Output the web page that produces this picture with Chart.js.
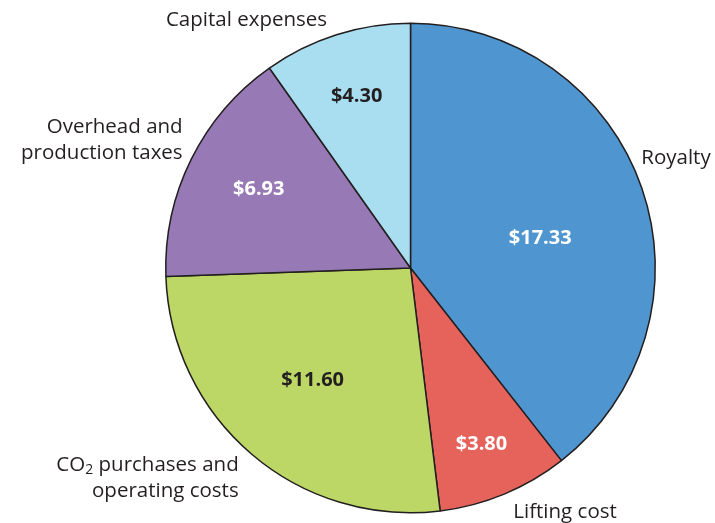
<!DOCTYPE html>
<html>
<head>
<meta charset="utf-8">
<script src="https://cdn.jsdelivr.net/npm/chart.js@4.4.1/dist/chart.umd.min.js"></script>
<style>
    html, body { margin: 0; padding: 0; background: #ffffff; }
    #wrap { width: 715px; height: 523px; position: relative; }
</style>
</head>
<body>
<div id="wrap"><canvas id="costChart"></canvas></div>
<script>
// slice data, clockwise from 12 o'clock
const categories = ['Royalty', 'Lifting cost', 'CO2 purchases and operating costs', 'Overhead and production taxes', 'Capital expenses'];
const costValues = [17.33, 3.80, 11.60, 6.93, 4.30];
const valueLabels = ['$17.33', '$3.80', '$11.60', '$6.93', '$4.30'];

const sliceColors = ['#4f96d1', '#e5635a', '#bdd766', '#977ab5', '#a9def1'];
const valueTextColors = ['#ffffff', '#ffffff', '#231f20', '#ffffff', '#231f20'];

// label placement, offsets from pie centre in units of radius
const valueOffsets = [[0.53, -0.12], [0.29, 0.72], [-0.40, 0.46], [-0.62, -0.32], [-0.22, -0.70]];
const outerLabels = [
    { lines: ['Royalty'], dx: 0.943, dy: -0.449, align: 'left' },
    { lines: ['Lifting cost'], dx: 0.42, dy: 0.996, align: 'left' },
    { lines: ['CO|2| purchases and', 'operating costs'], dx: -0.702, dy: 0.804, align: 'right' },
    { lines: ['Overhead and', 'production taxes'], dx: -0.931, dy: -0.576, align: 'right' },
    { lines: ['Capital expenses'], dx: -0.67, dy: -1.012, align: 'center' }
];

const fontFamily = "'Open Sans', 'Noto Sans', sans-serif";
const textColor = '#231f20';

// draws "CO|2|..." with a subscript part between pipes
function drawRichLine(ctx, text, x, y, align) {
    const parts = text.split('|');
    const normal = `20.5px ${fontFamily}`;
    const small = `14px ${fontFamily}`;
    let total = 0;
    parts.forEach((p, i) => {
        ctx.font = i % 2 ? small : normal;
        total += ctx.measureText(p).width;
    });
    let startX = x;
    if (align === 'right') startX = x - total;
    if (align === 'center') startX = x - total / 2;
    ctx.textAlign = 'left';
    parts.forEach((p, i) => {
        ctx.font = i % 2 ? small : normal;
        ctx.fillText(p, startX, i % 2 ? y + 5 : y);
        startX += ctx.measureText(p).width;
    });
}

const labelPlugin = {
    id: 'sliceLabels',
    afterDatasetsDraw(chart) {
        const ctx = chart.ctx;
        const arcs = chart.getDatasetMeta(0).data;
        if (!arcs.length) return;
        const cx = arcs[0].x;
        const cy = arcs[0].y;
        const r = arcs[0].outerRadius;
        ctx.save();
        ctx.textBaseline = 'middle';

        arcs.forEach((arc, i) => {
            ctx.font = `bold 20px ${fontFamily}`;
            ctx.fillStyle = valueTextColors[i];
            ctx.textAlign = 'center';
            ctx.fillText(valueLabels[i], cx + valueOffsets[i][0] * r, cy + valueOffsets[i][1] * r);
        });

        ctx.fillStyle = textColor;
        outerLabels.forEach((lab) => {
            lab.lines.forEach((line, j) => {
                drawRichLine(ctx, line, cx + lab.dx * r, cy + lab.dy * r + j * 26, lab.align);
            });
        });
        ctx.restore();
    }
};

new Chart(document.getElementById('costChart').getContext('2d'), {
    type: 'pie',
    data: {
        labels: categories,
        datasets: [{
            data: costValues,
            backgroundColor: sliceColors,
            borderColor: '#231f20',
            borderWidth: 1.5
        }]
    },
    options: {
        responsive: true,
        maintainAspectRatio: false,
        animation: false,
        layout: { padding: { left: 165, right: 59, top: 22, bottom: 9 } },
        plugins: {
            legend: { display: false },
            tooltip: { enabled: false }
        }
    },
    plugins: [labelPlugin]
});
</script>
</body>
</html>
